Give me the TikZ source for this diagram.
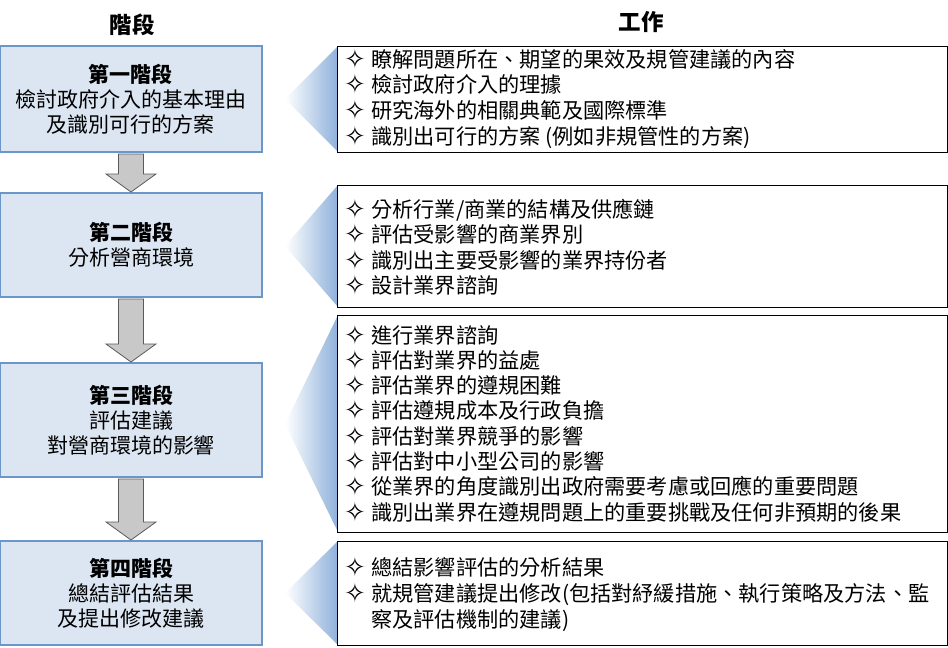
\documentclass[tikz,border=0pt]{standalone}
\usepackage{fontspec}
\setmainfont{Noto Sans CJK TC}
\newfontfamily\symfont{DejaVu Sans}
\usetikzlibrary{calc}
\definecolor{stagefill}{HTML}{DCE6F2}
\definecolor{stageline}{HTML}{6A96C8}
\definecolor{arrowfill}{HTML}{C8C8C8}
\definecolor{arrowline}{HTML}{5A5A5A}
\definecolor{wedgeblue}{HTML}{8EB0DA}
\newcommand\bul{\makebox[27pt][l]{\raisebox{-1pt}{\symfont\fontsize{26}{26}\selectfont ✧}}}
\tikzset{
  stagebox/.style={draw=stageline, line width=2pt, fill=stagefill, minimum width=262pt,
    align=center, inner sep=0pt, font=\fontsize{21}{25}\selectfont},
  taskbox/.style={draw=black, line width=1pt, fill=white, minimum width=610pt,
    anchor=north west, inner sep=0pt},
  wedge/.style={left color=white, right color=wedgeblue, draw=none},
  garrow/.style={draw=arrowline, line width=0.8pt, fill=arrowfill},
  item/.style={anchor=base west, inner sep=0pt, font=\fontsize{21.2}{25}\selectfont},
  header/.style={font=\bfseries\fontsize{22.5}{25}\selectfont, inner sep=0pt}
}
\begin{document}
\begin{tikzpicture}[x=1pt,y=-1pt]
\useasboundingbox (0,0) rectangle (948,648);
% headers
\node[header] (h1) at (132,25) {階段};
\node[header] (h2) at (641,22) {工作};
% wedges
\shade[wedge] (285,99) -- (338,46) -- (338,152) -- cycle;
\shade[wedge] (285,246) -- (338,185) -- (338,307) -- cycle;
\shade[wedge] (285,424) -- (338,315) -- (338,532) -- cycle;
\shade[wedge] (285,593) -- (338,541) -- (338,645) -- cycle;
% task boxes
\node[taskbox, minimum height=106pt] (r1) at (337,46) {};
\node[taskbox, minimum height=122pt] (r2) at (337,185) {};
\node[taskbox, minimum height=217pt] (r3) at (337,315) {};
\node[taskbox, minimum height=104pt] (r4) at (337,541) {};
% stage boxes
\node[stagebox, minimum height=106pt] (s1) at (131,99) {{\bfseries 第一階段}\\檢討政府介入的基本理由\\及識別可行的方案};
\node[stagebox, minimum height=104pt] (s2) at (131,245) {{\bfseries 第二階段}\\分析營商環境};
\node[stagebox, minimum height=114pt] (s3) at (131,420) {{\bfseries 第三階段}\\評估建議\\對營商環境的影響};
\node[stagebox, minimum height=104pt] (s4) at (131,593) {{\bfseries 第四階段}\\總結評估結果\\及提出修改建議};
% arrows
\foreach \a/\b in {s1/s2, s2/s3, s3/s4}{
  \draw[garrow] ($(\a.south)+(-12.5,1)$) -- ($(\b.north)+(-12.5,-18)$) -- ($(\b.north)+(-25,-18)$)
    -- (\b.north) -- ($(\b.north)+(25,-18)$) -- ($(\b.north)+(12.5,-18)$) -- ($(\a.south)+(12.5,1)$) -- cycle;
}
% task items
\foreach \t [count=\i] in {{瞭解問題所在、期望的果效及規管建議的內容},{檢討政府介入的理據},{研究海外的相關典範及國際標準},{識別出可行的方案 (例如非規管性的方案)}}
  \node[item] (t1-\i) at (344,{67+(\i-1)*25.7}) {\bul\t};
\foreach \t [count=\i] in {{分析行業/商業的結構及供應鏈},{評估受影響的商業界別},{識別出主要受影響的業界持份者},{設計業界諮詢}}
  \node[item] (t2-\i) at (344,{217+(\i-1)*25.5}) {\bul\t};
\foreach \t [count=\i] in {{進行業界諮詢},{評估對業界的益處},{評估業界的遵規困難},{評估遵規成本及行政負擔},{評估對業界競爭的影響},{評估對中小型公司的影響},{從業界的角度識別出政府需要考慮或回應的重要問題},{識別出業界在遵規問題上的重要挑戰及任何非預期的後果}}
  \node[item] (t3-\i) at (344,{343+(\i-1)*25.3}) {\bul\t};
\node[item] (t4-1) at (344,575) {\bul 總結影響評估的分析結果};
\node[item] (t4-2) at (344,601) {\bul 就規管建議提出修改(包括對紓緩措施、執行策略及方法、監};
\node[item] (t4-3) at (344,627) {\hspace*{27pt}察及評估機制的建議)};
\end{tikzpicture}
\end{document}
